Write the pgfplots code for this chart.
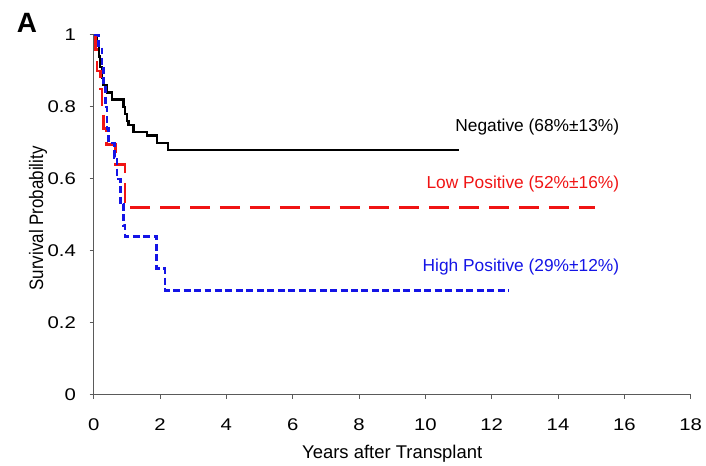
\documentclass[border=0pt]{standalone}
\usepackage{pgfplots}
\pgfplotsset{compat=1.18}
\usepackage{fontspec}
\setmainfont{Liberation Sans}
\definecolor{kmred}{RGB}{240,20,20}
\definecolor{kmblue}{RGB}{20,20,230}
\definecolor{axgray}{RGB}{90,90,90}
\begin{document}
\begin{tikzpicture}
\begin{axis}[
  name=ax, at={(0,0)}, anchor=south west,
  scale only axis, width=599pt, height=361pt,
  xmin=0, xmax=18, ymin=0, ymax=1,
  axis x line*=bottom, axis y line*=left,
  axis line style={axgray, line width=1.2pt},
  xtick={0,2,...,18}, ytick={0,0.2,...,1},
  tick align=outside, major tick length=4pt,
  tick style={axgray, line width=0.8pt},
  /pgf/number format/assume math mode=true,
  ticklabel style={font=\fontsize{17}{20}\selectfont, xscale=1.2},
  xticklabel style={yshift=-17pt},
  yticklabel style={xshift=-8pt},
  xlabel={Years after Transplant},
  ylabel={Survival Probability},
  xlabel style={font=\fontsize{18.5}{22}\selectfont, at={(axis description cs:0.5,-0.165)}, anchor=center},
  ylabel style={font=\fontsize{17}{20}\selectfont, at={(axis description cs:-0.093,0.49)}, anchor=center, yscale=1.15},
  clip=false,
]
% Negative
\addplot[const plot, black, line width=2.3pt] coordinates {
 (0,1) (0.1,0.97) (0.15,0.94) (0.2,0.91) (0.25,0.88) (0.3,0.86)
 (0.4,0.84) (0.55,0.82) (0.9,0.80) (0.95,0.78) (1.0,0.76) (1.05,0.75)
 (1.2,0.73) (1.6,0.72) (1.9,0.70) (2.25,0.68) (11.0,0.68)};
% Low positive
\addplot[const plot, kmred, line width=2.6pt, dash pattern=on 20pt off 10pt] coordinates {
 (0,1) (0.05,0.96) (0.1,0.90) (0.2,0.85) (0.25,0.80) (0.3,0.74)
 (0.38,0.695) (0.65,0.64) (0.95,0.52) (15.1,0.52)};
% High positive
\addplot[const plot, kmblue, line width=2.6pt, dash pattern=on 7pt off 3.5pt] coordinates {
 (0,1) (0.15,0.97) (0.25,0.92) (0.3,0.86) (0.35,0.80) (0.4,0.74)
 (0.45,0.70) (0.62,0.66) (0.7,0.60) (0.8,0.53) (0.9,0.47) (0.95,0.44)
 (1.9,0.35) (2.15,0.29) (12.5,0.29)};
\node[anchor=east, font=\fontsize{17.4}{20}\selectfont, black] at (axis cs:15.95,0.745) {Negative (68\%±13\%)};
\node[anchor=east, font=\fontsize{17.4}{20}\selectfont, kmred] at (axis cs:15.95,0.585) {Low Positive (52\%±16\%)};
\node[anchor=east, font=\fontsize{17.4}{20}\selectfont, kmblue] at (axis cs:15.95,0.355) {High Positive (29\%±12\%)};
\end{axis}
\node[font=\fontsize{28}{32}\selectfont\bfseries] at (-67pt,373pt) {A};
\path[use as bounding box] (-94pt,-71pt) rectangle (612pt,396pt);
\end{tikzpicture}
\end{document}
